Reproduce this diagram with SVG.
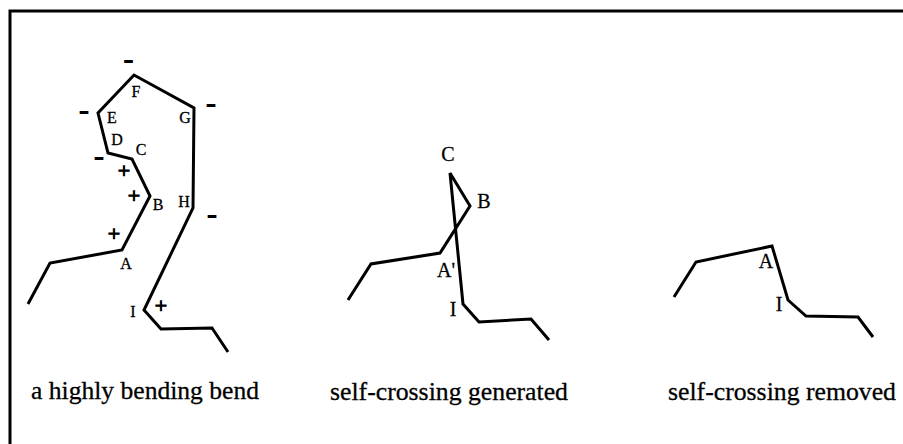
<svg xmlns="http://www.w3.org/2000/svg" width="903" height="444" viewBox="0 0 903 444">
<style>
.ln{fill:none;stroke:#000;stroke-width:3;stroke-linejoin:miter;stroke-linecap:butt}
.lb{font-family:"Liberation Serif","Times New Roman",serif;fill:#000;stroke:#000;stroke-width:0.3;text-anchor:middle}
.s1{font-size:16px}
.s2{font-size:20px}
.cap{font-family:"Liberation Serif","Times New Roman",serif;font-size:26px;fill:#000;stroke:#000;stroke-width:0.3}
.mn{font-family:"Liberation Serif",serif;font-size:13px;font-weight:bold;fill:#000;stroke:#000;stroke-width:2;text-anchor:middle}
.pl{font-family:"Liberation Serif",serif;font-size:22px;fill:#000;stroke:#000;stroke-width:1;text-anchor:middle}
</style>
<rect width="903" height="444" fill="#fff"/>
<g id="frame">
<path class="ln" d="M10,444 V11 H903"/>
</g>
<g id="panel1">
<polyline class="ln" points="28,304 50,263 122,250 150,196 132,159 108,153 98,113 134,75 194,108 193,208 144,310 161,329 212,328 228,352"/>
<text class="lb s1" x="136" y="97">F</text>
<text class="lb s1" x="112" y="123">E</text>
<text class="lb s1" x="117" y="145">D</text>
<text class="lb s1" x="141" y="155">C</text>
<text class="lb s1" x="185" y="123">G</text>
<text class="lb s1" x="184" y="207">H</text>
<text class="lb s1" x="158" y="210">B</text>
<text class="lb s1" x="126" y="269">A</text>
<text class="lb s1" x="133" y="317">I</text>
<text class="mn" x="128.5" y="63.5">–</text>
<text class="mn" x="84" y="114.5">–</text>
<text class="mn" x="99" y="160.5">–</text>
<text class="mn" x="211" y="108">–</text>
<text class="mn" x="212" y="218.5">–</text>
<text class="pl" x="124" y="177.5">+</text>
<text class="pl" x="134" y="202.5">+</text>
<text class="pl" x="114" y="240.5">+</text>
<text class="pl" x="161" y="312.5">+</text>
<text class="cap" x="31" y="399" textLength="228" lengthAdjust="spacingAndGlyphs">a highly bending bend</text>
</g>
<g id="panel2">
<polyline class="ln" points="348,300 371,264 440,253 470,206 450,173 463,304 479,322 531,319 549,340"/>
<text class="lb s2" x="448" y="161">C</text>
<text class="lb s2" x="484" y="208">B</text>
<text class="lb s2" x="446" y="277">A'</text>
<text class="lb s2" x="453" y="316">I</text>
<text class="cap" x="330" y="400" textLength="238" lengthAdjust="spacingAndGlyphs">self-crossing generated</text>
</g>
<g id="panel3">
<polyline class="ln" points="674,297 696,262 772,246 788,300 806,316 858,317 873,337"/>
<text class="lb s2" x="766" y="268">A</text>
<text class="lb s2" x="779" y="311">I</text>
<text class="cap" x="668" y="400" textLength="228" lengthAdjust="spacingAndGlyphs">self-crossing removed</text>
</g>
</svg>
